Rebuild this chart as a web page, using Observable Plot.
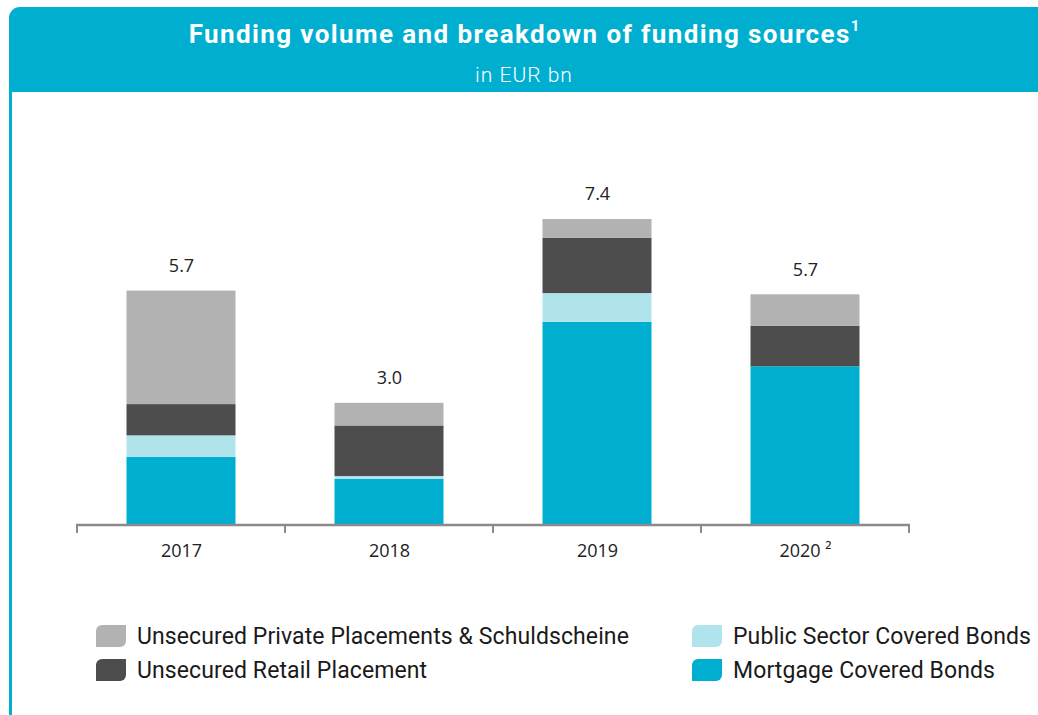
<!DOCTYPE html>
<html>
<head>
<meta charset="utf-8">
<script src="https://cdn.jsdelivr.net/npm/d3@7"></script>
<script src="https://cdn.jsdelivr.net/npm/@observablehq/plot@0.6"></script>
<style>
  html, body { margin: 0; padding: 0; background: #fff; width: 1038px; height: 715px; overflow: hidden; position: relative; }
  #header { position: absolute; left: 9px; top: 7px; width: 1040px; height: 85px; background: #00AECF; border-top-left-radius: 11px; color: #fff; text-align: center; font-family: Roboto, sans-serif; }
  #title { position: absolute; left: 0; right: 10px; top: 12px; font-size: 26px; font-weight: bold; letter-spacing: 1.4px; }
  #title sup { font-size: 15px; position: relative; top: -2px; letter-spacing: 0; }
  #subtitle { position: absolute; left: 0; right: 10px; top: 56px; font-size: 21px; font-weight: 300; letter-spacing: 1px; }
  #leftline { position: absolute; left: 9px; top: 92px; width: 2.5px; height: 623px; background: #00AECF; }
  #chart { position: absolute; left: 0; top: 100px; }
  .leg { position: absolute; font-family: Roboto, sans-serif; font-size: 23px; letter-spacing: 0.1px; color: #1a1a1a; display: flex; align-items: center; white-space: nowrap; }
  .sw { width: 30px; height: 22px; border-radius: 6px 0 6px 0; margin-right: 11px; }
</style>
</head>
<body>
<div id="header">
  <div id="title">Funding volume and breakdown of funding sources<sup>1</sup></div>
  <div id="subtitle">in EUR bn</div>
</div>
<div id="leftline"></div>
<div id="chart"></div>
<div id="legend"></div>
<script>
const years = ["2017", "2018", "2019", "2020"];
const yearLabels = ["2017", "2018", "2019", "2020 ²"];
const totalLabels = ["5.7", "3.0", "7.4", "5.7"];
const seriesNames = ["Mortgage Covered Bonds", "Public Sector Covered Bonds", "Unsecured Retail Placement", "Unsecured Private Placements & Schuldscheine"];
const seriesColors = ["#00AECF", "#B0E3EC", "#4D4D4D", "#B2B2B2"];
const mortgage = [1.66, 1.12, 4.94, 3.86];
const publicSector = [0.52, 0.07, 0.70, 0.00];
const retail = [0.76, 1.23, 1.34, 0.98];
const privatePl = [2.76, 0.55, 0.46, 0.77];

const seriesValues = [mortgage, publicSector, retail, privatePl];
const rows = [];
seriesNames.forEach((s, si) => years.forEach((y, yi) => rows.push({year: y, series: s, value: seriesValues[si][yi]})));
const totals = years.map((y, i) => ({year: y, total: seriesValues.reduce((a, v) => a + v[i], 0), label: totalLabels[i]}));

function boundaryTicks(index, scales, values, dimensions) {
  const x = scales.x, y = scales.y;
  const y0 = y(0);
  const g = d3.create("svg:g");
  const pos = years.map(d => x(d));
  pos.push(x(years[years.length - 1]) + x.bandwidth());
  for (const p of pos) {
    g.append("line").attr("x1", p).attr("x2", p).attr("y1", y0).attr("y2", y0 + 8)
      .attr("stroke", "#8a8a8a").attr("stroke-width", 2);
  }
  g.append("line").attr("x1", pos[0] - 1).attr("x2", pos[pos.length - 1] + 1).attr("y1", y0).attr("y2", y0)
    .attr("stroke", "#8a8a8a").attr("stroke-width", 2.5);
  return g.node();
}

const chart = Plot.plot({
  width: 1038,
  height: 465,
  marginLeft: 76,
  marginRight: 128,
  marginTop: 96,
  marginBottom: 40,
  x: {domain: years, padding: 0, axis: null},
  y: {domain: [0, 8], axis: null},
  color: {domain: seriesNames, range: seriesColors},
  style: {fontFamily: "'Open Sans', sans-serif", background: "transparent"},
  marks: [
    Plot.barY(rows, Plot.stackY({x: "year", y: "value", fill: "series", order: seriesNames, insetLeft: 49.5, insetRight: 49.5})),
    Plot.text(totals, {x: "year", y: "total", text: "label", dy: -25, fontSize: 18, fill: "#222"}),
    boundaryTicks,
    Plot.text(years, {x: d => d, y: 0, text: (d, i) => yearLabels[i], dy: 26, fontSize: 18, fill: "#222"})
  ]
});
document.getElementById("chart").appendChild(chart);

const legendItems = [
  {name: seriesNames[3], color: seriesColors[3], left: 96, top: 625},
  {name: seriesNames[2], color: seriesColors[2], left: 96, top: 659},
  {name: seriesNames[1], color: seriesColors[1], left: 692, top: 625},
  {name: seriesNames[0], color: seriesColors[0], left: 692, top: 659}
];
const leg = document.getElementById("legend");
for (const it of legendItems) {
  const d = document.createElement("div");
  d.className = "leg";
  d.style.left = it.left + "px";
  d.style.top = it.top + "px";
  d.style.height = "22px";
  d.innerHTML = `<div class="sw" style="background:${it.color}"></div><span>${it.name}</span>`;
  leg.appendChild(d);
}
</script>
</body>
</html>
